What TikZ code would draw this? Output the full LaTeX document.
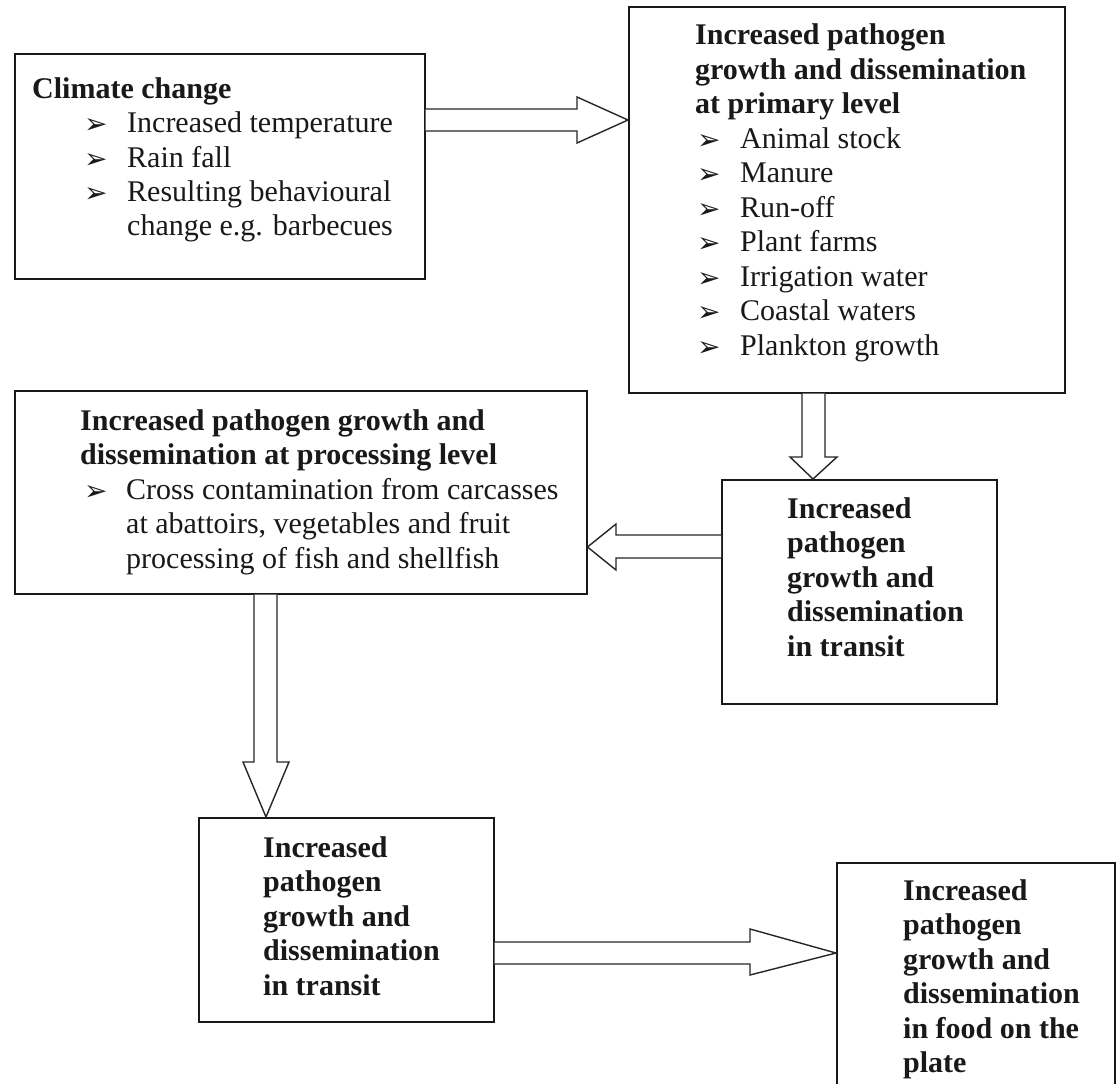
\documentclass[tikz,border=0pt]{standalone}
\usepackage{fontspec}
\setmainfont{Liberation Serif}
\newfontfamily\dejavu{DejaVu Sans}
\newcommand\bul{{\dejavu\fontsize{28}{28}\selectfont\raisebox{-1pt}{➢}}}
\newcommand\bitem[1]{\makebox[43pt][l]{\bul}#1}
\begin{document}
\begin{tikzpicture}[x=1pt,y=-1pt,
  box/.style={draw=black!90,line width=1.5pt,inner sep=0pt,anchor=north west,fill=none},
  txt/.style={anchor=base west,inner sep=0pt,text=black!90,font=\fontsize{30}{34.5}\selectfont},
  barrow/.style={draw=black!85,line width=1.4pt,fill=white,line join=miter}]
\useasboundingbox (0,0) rectangle (1120,1084);
\fill[white] (0,0) rectangle (1120,1084);
% boxes
\node[box,minimum width=410pt,minimum height=225pt] (a) at (14,53) {};
\node[box,minimum width=436pt,minimum height=386pt] (b) at (628,6) {};
\node[box,minimum width=572pt,minimum height=203pt] (c) at (14,390) {};
\node[box,minimum width=275pt,minimum height=224pt] (d) at (721,479) {};
\node[box,minimum width=295pt,minimum height=204pt] (e) at (198,817) {};
\node[box,minimum width=278pt,minimum height=250pt] (f) at (836,862) {};
% texts
\node[txt] (aT) at (32,98) {\begin{tabular}[t]{@{}l@{}}
\textbf{Climate change}\\
\hspace*{52pt}\bitem{Increased temperature}\\
\hspace*{52pt}\bitem{Rain fall}\\
\hspace*{52pt}\bitem{Resulting behavioural}\\
\hspace*{95pt}change e.g. barbecues
\end{tabular}};
\node[txt] (bT) at (695,45) {\begin{tabular}[t]{@{}l@{}}
\textbf{Increased pathogen}\\
\textbf{growth and dissemination}\\
\textbf{at primary level}\\
\hspace*{2pt}\bitem{Animal stock}\\
\hspace*{2pt}\bitem{Manure}\\
\hspace*{2pt}\bitem{Run-off}\\
\hspace*{2pt}\bitem{Plant farms}\\
\hspace*{2pt}\bitem{Irrigation water}\\
\hspace*{2pt}\bitem{Coastal waters}\\
\hspace*{2pt}\bitem{Plankton growth}
\end{tabular}};
\node[txt] (cT) at (80,430) {\begin{tabular}[t]{@{}l@{}}
\textbf{Increased pathogen growth and}\\
\textbf{dissemination at processing level}\\
\hspace*{4pt}\makebox[42pt][l]{\bul}Cross contamination from carcasses\\
\hspace*{46pt}at abattoirs, vegetables and fruit\\
\hspace*{46pt}processing of fish and shellfish
\end{tabular}};
\node[txt] (dT) at (787,518) {\begin{tabular}[t]{@{}l@{}}
\textbf{Increased}\\ \textbf{pathogen}\\ \textbf{growth and}\\ \textbf{dissemination}\\ \textbf{in transit}
\end{tabular}};
\node[txt] (eT) at (263,857) {\begin{tabular}[t]{@{}l@{}}
\textbf{Increased}\\ \textbf{pathogen}\\ \textbf{growth and}\\ \textbf{dissemination}\\ \textbf{in transit}
\end{tabular}};
\node[txt] (fT) at (903,900) {\begin{tabular}[t]{@{}l@{}}
\textbf{Increased}\\ \textbf{pathogen}\\ \textbf{growth and}\\ \textbf{dissemination}\\ \textbf{in food on the}\\ \textbf{plate}
\end{tabular}};
% block arrows
\draw[barrow] (a.north east |- 0,109) -- (577,109) -- (577,97) -- (b.north west |- 0,120)
  -- (577,143) -- (577,131) -- (a.north east |- 0,131);
\draw[barrow] (b.south west -| 802,0) -- (802,457) -- (790,457) -- (d.north west -| 813,0)
  -- (837,457) -- (825,457) -- (b.south west -| 825,0);
\draw[barrow] (d.north west |- 0,535) -- (616,535) -- (616,524) -- (c.north east |- 0,547)
  -- (616,570) -- (616,558) -- (d.north west |- 0,558);
\draw[barrow] (c.south west -| 254,0) -- (254,762) -- (243,762) -- (e.north west -| 266,0)
  -- (289,762) -- (277,762) -- (c.south west -| 277,0);
\draw[barrow] (e.north east |- 0,942) -- (750,942) -- (750,929) -- (f.north west |- 0,953)
  -- (750,975) -- (750,964) -- (e.north east |- 0,964);
\end{tikzpicture}
\end{document}
